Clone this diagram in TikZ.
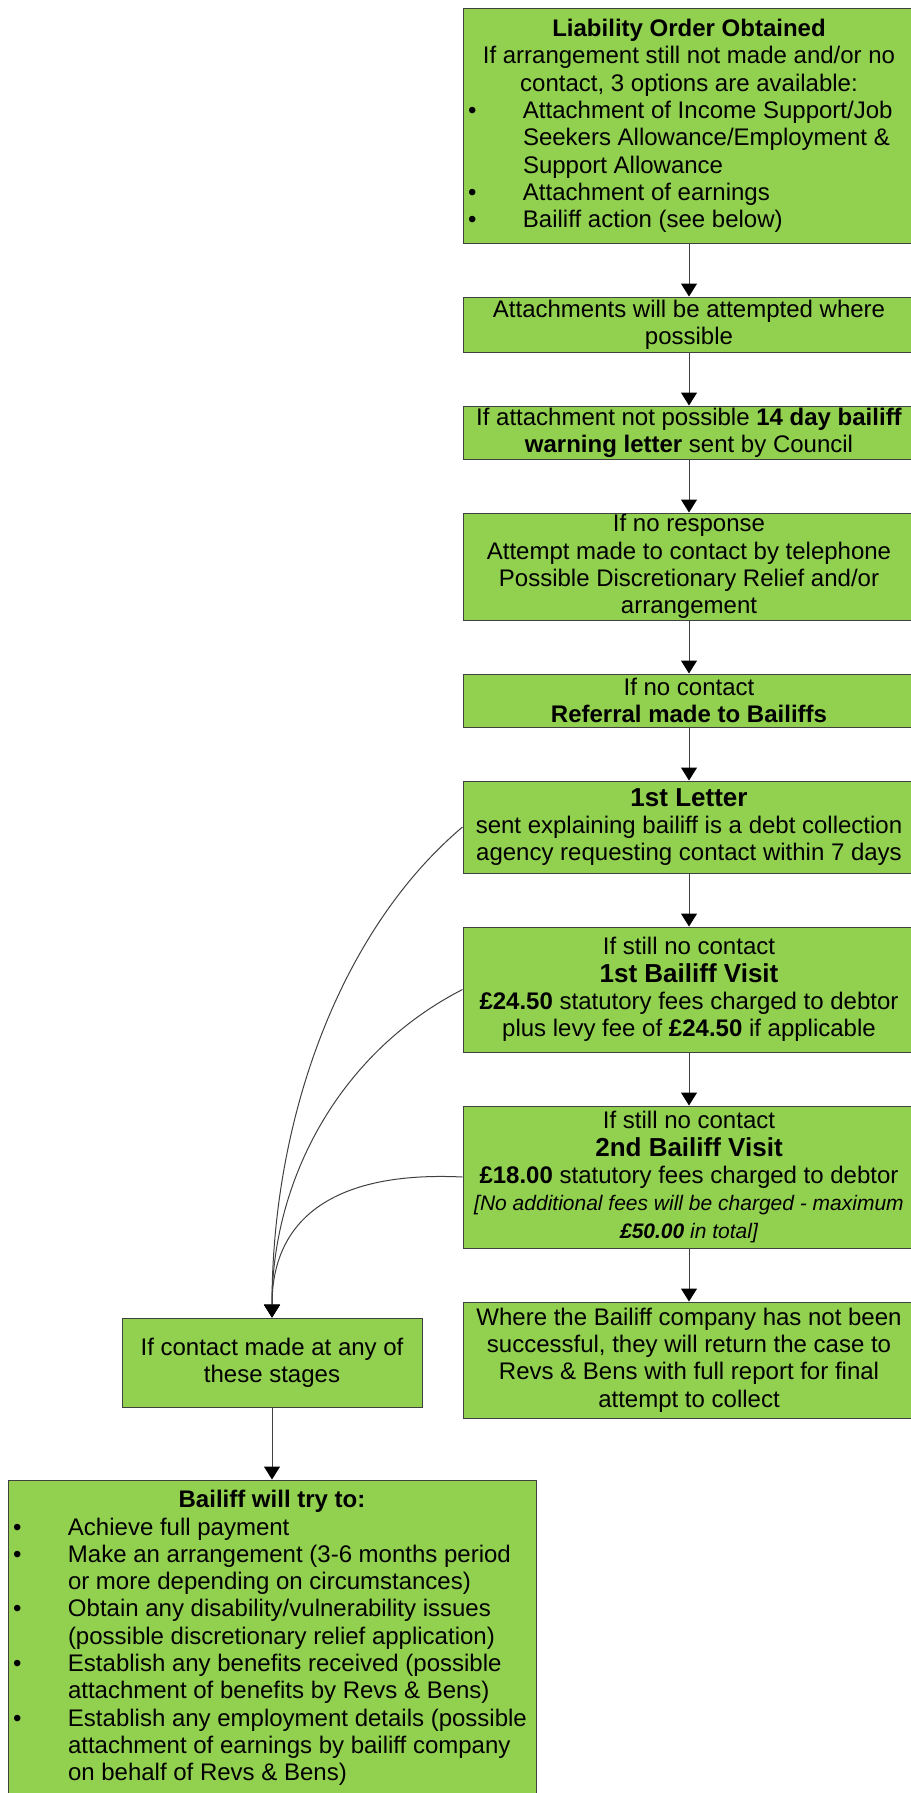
\documentclass[tikz,border=0pt]{standalone}
\usepackage{fontspec}
\setmainfont{Liberation Sans}
\usepackage{xcolor}
\usepackage{tikz}
\usetikzlibrary{positioning,arrows.meta}
\definecolor{boxgreen}{HTML}{92D050}
\definecolor{edgegray}{HTML}{404040}
\newcommand{\bul}{\makebox[55pt][l]{\textbullet}}
\newcommand{\bcont}{\hspace*{55pt}}
\tikzset{
stage/.style={
draw=edgegray,
line width=1pt,
fill=boxgreen,
minimum width=452pt,
inner xsep=5pt,
inner ysep=1pt,
align=center,
font=\fontsize{24}{27.3}\selectfont
},
listbox/.style={
stage,
align=left
},
arrow/.style={
-{Triangle[width=16pt,length=13pt,black]},
line width=1pt,
draw=edgegray
}
}
\newcommand{\headline}[1]{{\fontsize{26}{29}\selectfont\bfseries #1}}
\newcommand{\smallit}[1]{{\fontsize{21}{24}\selectfont\itshape #1}}

\begin{document}
\begin{tikzpicture}[x=1pt,y=-1pt,node distance=53pt]
\useasboundingbox (0,0) rectangle (910,1793);
\node[listbox,minimum height=234pt](liab) at (689,126){\makebox[442pt]{\textbf{Liability Order Obtained}}\\
\makebox[442pt]{If arrangement still not made and/or no}\\
\makebox[442pt]{contact, 3 options are available:}\\
\bul Attachment of Income Support/Job\\
\bcont Seekers Allowance/Employment \&\\
\bcont Support Allowance\\
\bul Attachment of earnings\\
\bul Bailiff action (see below)};
\node[stage,minimum height=55pt,below=of liab](attach){Attachments will be attempted where\\possible};
\node[stage,minimum height=53pt,below=of attach](warn){If attachment not possible \textbf{14 day bailiff}\\\textbf{warning letter} sent by Council};
\node[stage,minimum height=107pt,below=of warn](noresp){If no response\\Attempt made to contact by telephone\\Possible Discretionary Relief and/or\\arrangement};
\node[stage,minimum height=53pt,below=of noresp](refer){If no contact\\\textbf{Referral made to Bailiffs}};
\node[stage,minimum height=92pt,below=of refer](letter){\headline{1st Letter}\\sent explaining bailiff is a debt collection\\agency requesting contact within 7 days};
\node[stage,minimum height=125pt,below=of letter](visit1){If still no contact\\\headline{1st Bailiff Visit}\\\textbf{£24.50} statutory fees charged to debtor\\plus levy fee of \textbf{£24.50} if applicable};
\node[stage,minimum height=142pt,below=of visit1](visit2){If still no contact\\\headline{2nd Bailiff Visit}\\\textbf{£18.00} statutory fees charged to debtor\\\smallit{[No additional fees will be charged - maximum}\\\smallit{\textbf{£50.00} in total]}};
\node[stage,minimum height=116pt,below=of visit2](where){Where the Bailiff company has not been\\successful, they will return the case to\\Revs \& Bens with full report for final\\attempt to collect};

\node[stage,minimum width=300pt,minimum height=89pt](contact) at (272,1362.5){If contact made at any of\\these stages};
\node[listbox,minimum width=528pt,minimum height=316pt,below=72pt of contact](bailiff){\makebox[518pt]{\textbf{Bailiff will try to:}}\\
\bul Achieve full payment\\
\bul Make an arrangement (3-6 months period\\
\bcont or more depending on circumstances)\\
\bul Obtain any disability/vulnerability issues\\
\bcont (possible discretionary relief application)\\
\bul Establish any benefits received (possible\\
\bcont attachment of benefits by Revs \& Bens)\\
\bul Establish any employment details (possible\\
\bcont attachment of earnings by bailiff company\\
\bcont on behalf of Revs \& Bens)};

\foreach \x/\y in {liab/attach,attach/warn,warn/noresp,noresp/refer,refer/letter,letter/visit1,visit1/visit2,visit2/where}
\draw[arrow](\x)--(\y);
% contact made at any stage
\draw[arrow](letter.west) .. controls +(-123,104) and +(0,-198) .. (contact.north);
\draw[arrow](visit1.west) .. controls +(-123,63) and +(0,-138) .. (contact.north);
\draw[arrow](visit2.west) .. controls +(-123,-6) and +(0,-103) .. (contact.north);
\draw[arrow](contact)--(bailiff);
\end{tikzpicture}
\end{document}
